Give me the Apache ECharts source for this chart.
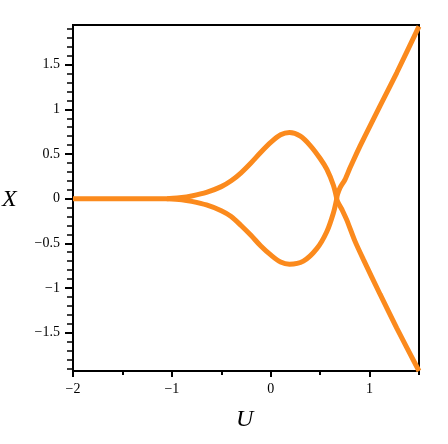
<!DOCTYPE html>
<html>
<head>
<meta charset="utf-8">
<script src="https://cdn.jsdelivr.net/npm/echarts@6/dist/echarts.min.js"></script>
<style>
  html, body { margin: 0; padding: 0; background: #fff; }
  #container { width: 448px; height: 444px; }
</style>
</head>
<body>
<div id="container"></div>
<script>
// flat part + upper half of the loop, ending at the crossing
var upperU = [-2, -1.5, -1.05, -0.9, -0.8, -0.65, -0.5, -0.4, -0.3, -0.2, -0.1, 0, 0.1, 0.19, 0.3, 0.4, 0.5, 0.567, 0.634, 0.668];
var upperX = [0, 0, 0, 0.012, 0.03, 0.07, 0.135, 0.2, 0.29, 0.4, 0.52, 0.63, 0.715, 0.74, 0.7, 0.595, 0.45, 0.33, 0.15, 0];
// lower half of the loop
var lowerU = [-1.05, -0.9, -0.8, -0.65, -0.5, -0.4, -0.3, -0.2, -0.1, 0, 0.1, 0.19, 0.33, 0.466, 0.567, 0.634, 0.668];
var lowerX = [0, -0.012, -0.03, -0.07, -0.135, -0.2, -0.3, -0.41, -0.53, -0.63, -0.71, -0.735, -0.7, -0.56, -0.37, -0.16, 0];
// the V shaped branch on the right
var armU = [1.5, 1.275, 1.106, 0.937, 0.87, 0.8, 0.75, 0.7, 0.668, 0.72, 0.77, 0.85, 0.937, 1.106, 1.275, 1.5];
var armX = [1.93, 1.41, 1.04, 0.665, 0.51, 0.34, 0.21, 0.12, 0, -0.12, -0.24, -0.47, -0.68, -1.07, -1.45, -1.93];

// ticks
var uMajor = [-2, -1, 0, 1];
var uMinor = [-1.5, -0.5, 0.5, 1.5];
var xMajor = [-1.5, -1, -0.5, 0, 0.5, 1, 1.5];
var xMinor = [-1.9, -1.8, -1.7, -1.6, -1.4, -1.3, -1.2, -1.1, -0.9, -0.8, -0.7, -0.6, -0.4, -0.3, -0.2, -0.1,
  0.1, 0.2, 0.3, 0.4, 0.6, 0.7, 0.8, 0.9, 1.1, 1.2, 1.3, 1.4, 1.6, 1.7, 1.8, 1.9];

var orange = '#fb8a1d';
var serif = 'Liberation Serif';

function pairs(us, xs) {
  var out = [];
  for (var i = 0; i < us.length; i++) out.push([us[i], xs[i]]);
  return out;
}
function fmt(v) {
  return String(v).replace('-', '\u2212');
}

var myChart = echarts.init(document.getElementById('container'), null, { renderer: 'canvas' });

var lineStyle = { color: '#000', width: 2 };

var option = {
  animation: false,
  backgroundColor: '#fff',
  grid: {
    left: 73, right: 29, top: 25, bottom: 73,
    show: true, borderColor: '#000', borderWidth: 2
  },
  xAxis: [
    {
      type: 'value', min: -2, max: 1.5, position: 'bottom',
      axisLine: { show: true, onZero: false, lineStyle: lineStyle },
      axisTick: { show: true, customValues: uMajor, length: 6, lineStyle: lineStyle },
      axisLabel: {
        customValues: uMajor, formatter: fmt, margin: 11,
        fontFamily: serif, fontSize: 14, color: '#000'
      },
      splitLine: { show: false }
    },
    {
      type: 'value', min: -2, max: 1.5, position: 'bottom', offset: 0,
      axisLine: { show: false, onZero: false },
      axisTick: { show: true, customValues: uMinor, length: 4, lineStyle: lineStyle },
      axisLabel: { show: false },
      splitLine: { show: false }
    }
  ],
  yAxis: [
    {
      type: 'value', min: -1.93, max: 1.945, position: 'left',
      axisLine: { show: true, onZero: false, lineStyle: lineStyle },
      axisTick: { show: true, customValues: xMajor, length: 8, lineStyle: lineStyle },
      axisLabel: {
        customValues: xMajor, formatter: fmt, margin: 13,
        fontFamily: serif, fontSize: 14, color: '#000'
      },
      splitLine: { show: false }
    },
    {
      type: 'value', min: -1.93, max: 1.945, position: 'left', offset: 0,
      axisLine: { show: false, onZero: false },
      axisTick: { show: true, customValues: xMinor, length: 6, lineStyle: { color: '#000', width: 1.5 } },
      axisLabel: { show: false },
      splitLine: { show: false }
    }
  ],
  graphic: [
    {
      type: 'text', left: 2, top: 188,
      style: { text: 'X', font: 'italic 24px "Liberation Serif"', fill: '#000' }
    },
    {
      type: 'text', left: 236, top: 408,
      style: { text: 'U', font: 'italic 24px "Liberation Serif"', fill: '#000' }
    }
  ],
  series: [
    {
      type: 'line', data: pairs(upperU, upperX), showSymbol: false, smooth: 0.3,
      lineStyle: { color: orange, width: 5 }
    },
    {
      type: 'line', data: pairs(lowerU, lowerX), showSymbol: false, smooth: 0.3,
      lineStyle: { color: orange, width: 5 }
    },
    {
      type: 'line', data: pairs(armU, armX), showSymbol: false, smooth: 0.2,
      lineStyle: { color: orange, width: 5 }
    }
  ]
};
myChart.setOption(option);
</script>
</body>
</html>
